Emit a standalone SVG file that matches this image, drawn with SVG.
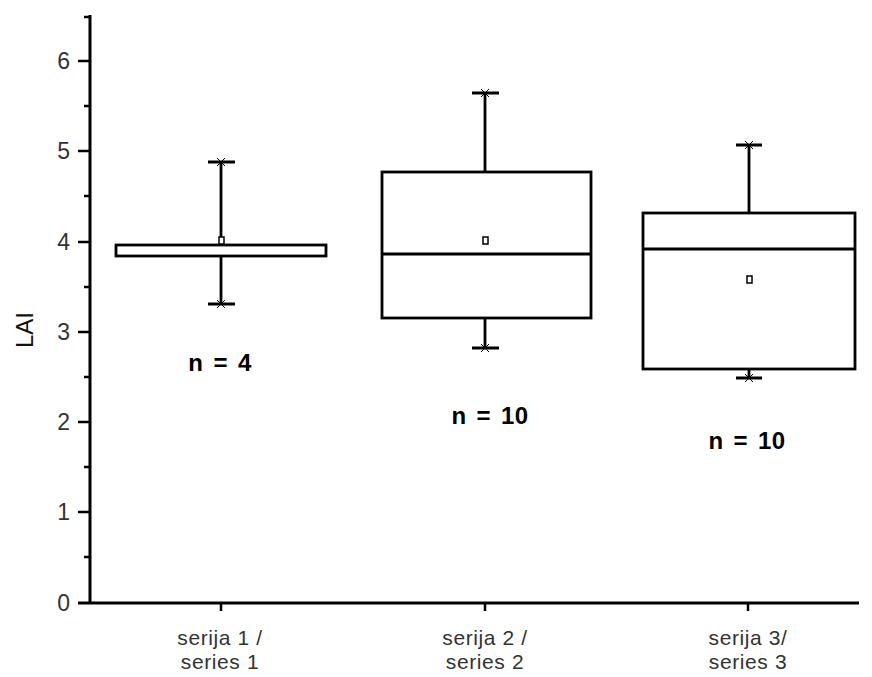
<svg xmlns="http://www.w3.org/2000/svg" width="872" height="677" viewBox="0 0 872 677">
<style>
.ax{stroke:#000;stroke-width:3;fill:none}
.tk{stroke:#000;stroke-width:2.5;fill:none}
.box{stroke:#000;stroke-width:2.8;fill:none}
.wh{stroke:#000;stroke-width:2.8;fill:none}
.xm{stroke:#000;stroke-width:1;fill:none}
.mean{stroke:#000;stroke-width:1.5;fill:#fff}
.tl{font-family:"Liberation Sans",Arial,sans-serif;font-size:23px;fill:#333;text-anchor:end}
.cl{font-family:"Liberation Sans",Arial,sans-serif;font-size:21px;letter-spacing:0.6px;fill:#333;text-anchor:middle}
.nl{font-family:"Liberation Sans",Arial,sans-serif;font-size:24px;font-weight:bold;word-spacing:3px;letter-spacing:0.4px;fill:#000;text-anchor:middle}
.yl{font-family:"Liberation Sans",Arial,sans-serif;font-size:24px;fill:#111;text-anchor:middle}
</style>
<rect width="872" height="677" fill="#fff"/>
<g id="axes">
<path class="ax" d="M90,15 V603 M78,603 H859"/>
<path class="tk" d="M78,61 H90 M78,151 H90 M78,242 H90 M78,332 H90 M78,422 H90 M78,512 H90 M84,17 H90 M84,106 H90 M84,196 H90 M84,287 H90 M84,377 H90 M84,467 H90 M84,557 H90"/>
<path class="tk" d="M221,603 V611 M485,603 V611 M748,603 V611"/>
<text class="tl" x="70" y="69">6</text>
<text class="tl" x="70" y="159">5</text>
<text class="tl" x="70" y="250">4</text>
<text class="tl" x="70" y="340">3</text>
<text class="tl" x="70" y="430">2</text>
<text class="tl" x="70" y="520">1</text>
<text class="tl" x="70" y="611">0</text>
<text class="yl" transform="translate(33,330) rotate(-90)">LAI</text>
<text class="cl" x="220" y="645">serija 1 /</text>
<text class="cl" x="220" y="669">series 1</text>
<text class="cl" x="485" y="645">serija 2 /</text>
<text class="cl" x="485" y="669">series 2</text>
<text class="cl" x="748" y="645">serija 3/</text>
<text class="cl" x="748" y="669">series 3</text>
</g>
<g id="series1">
<path class="wh" d="M221,162 V245 M221,256 V304 M208,162 H235 M208,304 H235"/>
<path class="xm" d="M217,158 L225,166 M225,158 L217,166 M217,300 L225,308 M225,300 L217,308"/>
<rect class="box" x="116" y="245" width="210" height="11"/>
<rect class="mean" x="219" y="237" width="5" height="7"/>
<text class="nl" x="220" y="371">n = 4</text>
</g>
<g id="series2">
<path class="wh" d="M485,93 V172 M485,318 V348 M472,93 H499 M472,348 H499"/>
<path class="xm" d="M481,89 L489,97 M489,89 L481,97 M481,344 L489,352 M489,344 L481,352"/>
<rect class="box" x="382" y="172" width="209" height="146"/>
<path class="box" d="M382,254 H591"/>
<rect class="mean" x="483" y="237" width="5" height="7"/>
<text class="nl" x="490" y="424">n = 10</text>
</g>
<g id="series3">
<path class="wh" d="M749,145 V213 M749,369 V378 M736,145 H762 M736,378 H762"/>
<path class="xm" d="M745,141 L753,149 M753,141 L745,149 M745,374 L753,382 M753,374 L745,382"/>
<rect class="box" x="643" y="213" width="212" height="156"/>
<path class="box" d="M643,249 H855"/>
<rect class="mean" x="747" y="276" width="5" height="7"/>
<text class="nl" x="747" y="449">n = 10</text>
</g>
</svg>
